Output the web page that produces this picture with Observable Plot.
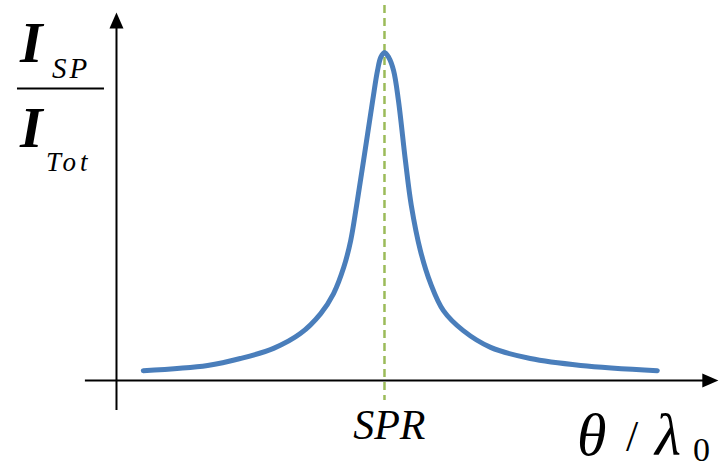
<!DOCTYPE html>
<html><head><meta charset="utf-8">
<script src="https://cdn.jsdelivr.net/npm/d3@7"></script>
<script src="https://cdn.jsdelivr.net/npm/@observablehq/plot@0.6"></script>
<style>
html,body{margin:0;padding:0;background:#fff;overflow:hidden}
#chart{position:relative;width:720px;height:462px;overflow:hidden}
#chart svg{display:block}
.lbl{position:absolute;left:0;top:0;font-family:"Liberation Serif","Times New Roman",serif;white-space:nowrap;color:#000}
.it{font-style:italic}
.bi{font-style:italic;font-weight:bold}
</style>
</head><body>
<div id="chart">
<span class="lbl bi" id="l0" style="font-size:58px;line-height:58px">I</span>
<span class="lbl it" id="l1" style="font-size:29px;line-height:29px;letter-spacing:3px">SP</span>
<span class="lbl bi" id="l2" style="font-size:58px;line-height:58px">I</span>
<span class="lbl it" id="l3" style="font-size:27px;line-height:27px;letter-spacing:4px">Tot</span>
<span class="lbl it" id="l4" style="font-size:42px;line-height:42px">SPR</span>
<span class="lbl it" id="l5" style="font-size:60px;line-height:60px">θ</span>
<span class="lbl" id="l6" style="font-size:44px;line-height:44px">/</span>
<span class="lbl it" id="l7" style="font-size:60px;line-height:60px">λ</span>
<span class="lbl" id="l8" style="font-size:34px;line-height:34px">0</span>
</div>
<script>
// Curve (x: angle/wavelength units, y: I_SP / I_Tot, peak = 1)
const angle = [5.0, 17.0, 23.1, 29.3, 34.3, 38.1, 40.5, 42.4, 43.7, 44.8, 46.1, 47.8, 48.7, 49.3, 50.0, 50.8, 51.7, 52.6, 53.9, 55.0, 56.7, 58.6, 61.0, 64.7, 69.8, 77.2, 86.6, 100.9];
const intensity = [0.030, 0.046, 0.067, 0.098, 0.143, 0.204, 0.265, 0.345, 0.427, 0.534, 0.671, 0.854, 0.945, 0.985, 1.0, 0.985, 0.945, 0.854, 0.671, 0.534, 0.396, 0.296, 0.213, 0.152, 0.101, 0.067, 0.046, 0.030];
const resonance = 50;            // SPR position
const resonanceLabel = "SPR";
const yLabelNum = ["I", "SP"];
const yLabelDen = ["I", "Tot"];
const xLabel = ["θ", "/", "λ", "0"];

const curve = angle.map((a, i) => ({angle: a, value: intensity[i]}));

const arrowHead = {
  draw(ctx, size) {
    const s = Math.sqrt(size / Math.PI);
    ctx.moveTo(0, 0);
    ctx.lineTo(-s, 2.3 * s);
    ctx.lineTo(s, 2.3 * s);
    ctx.closePath();
  }
};

const chart = Plot.plot({
  width: 720,
  height: 462,
  margin: 0,
  x: {domain: [-21.64, 112.69], axis: null},
  y: {domain: [-0.25, 1.1585], axis: null},
  style: {background: "#fff"},
  marks: [
    // axes with arrowheads
    Plot.ruleY([0], {x1: -5.8, x2: 110.5, stroke: "#000", strokeWidth: 2}),
    Plot.ruleX([0], {y1: -0.0915, y2: 1.09, stroke: "#000", strokeWidth: 2}),
    Plot.dot([{x: 112.3, y: 0}], {x: "x", y: "y", symbol: arrowHead, r: 7, fill: "#000", stroke: "none", rotate: 90}),
    Plot.dot([{x: 0, y: 1.122}], {x: "x", y: "y", symbol: arrowHead, r: 7, fill: "#000", stroke: "none"}),
    // resonance line
    Plot.ruleX([resonance], {y1: 1.143, y2: -0.061, stroke: "#9bbb59", strokeWidth: 2.5, strokeDasharray: "8,5"}),
    // curve
    Plot.line(curve, {x: "angle", y: "value", stroke: "#4a7ebb", strokeWidth: 5, curve: "catmull-rom"}),
    // fraction bar of the y label
    Plot.ruleY([0.8902], {x1: -18.47, x2: -2.24, stroke: "#000", strokeWidth: 2})
  ]
});
const wrap = document.getElementById("chart");
wrap.insertBefore(chart, wrap.firstChild);

// Serif labels (static spans) placed through the chart's own scales
const labels = [
  {id: "l0", text: yLabelNum[0], x: -17.91, y: 0.9665, size: 58},
  {id: "l1", text: yLabelNum[1], x: -11.94, y: 0.9207, size: 29},
  {id: "l2", text: yLabelDen[0], x: -17.91, y: 0.7073, size: 58},
  {id: "l3", text: yLabelDen[1], x: -13.06, y: 0.6341, size: 27},
  {id: "l4", text: resonanceLabel, x: resonance + 1.0, y: -0.1799, size: 42, anchor: "middle"},
  {id: "l5", text: xLabel[0], x: 86.0, y: -0.2287, size: 60},
  {id: "l6", text: xLabel[1], x: 95.15, y: -0.2195, size: 44},
  {id: "l7", text: xLabel[2], x: 100.56, y: -0.2287, size: 60},
  {id: "l8", text: xLabel[3], x: 107.65, y: -0.247, size: 34}
];
const X = chart.scale("x"), Y = chart.scale("y");
for (const l of labels) {
  const s = document.getElementById(l.id);
  s.textContent = l.text;
  s.style.left = X.apply(l.x) + "px";
  s.style.top = (Y.apply(l.y) - 0.8375 * l.size) + "px";
  if (l.anchor === "middle") s.style.transform = "translateX(-50%)";
}
</script>
</body></html>
